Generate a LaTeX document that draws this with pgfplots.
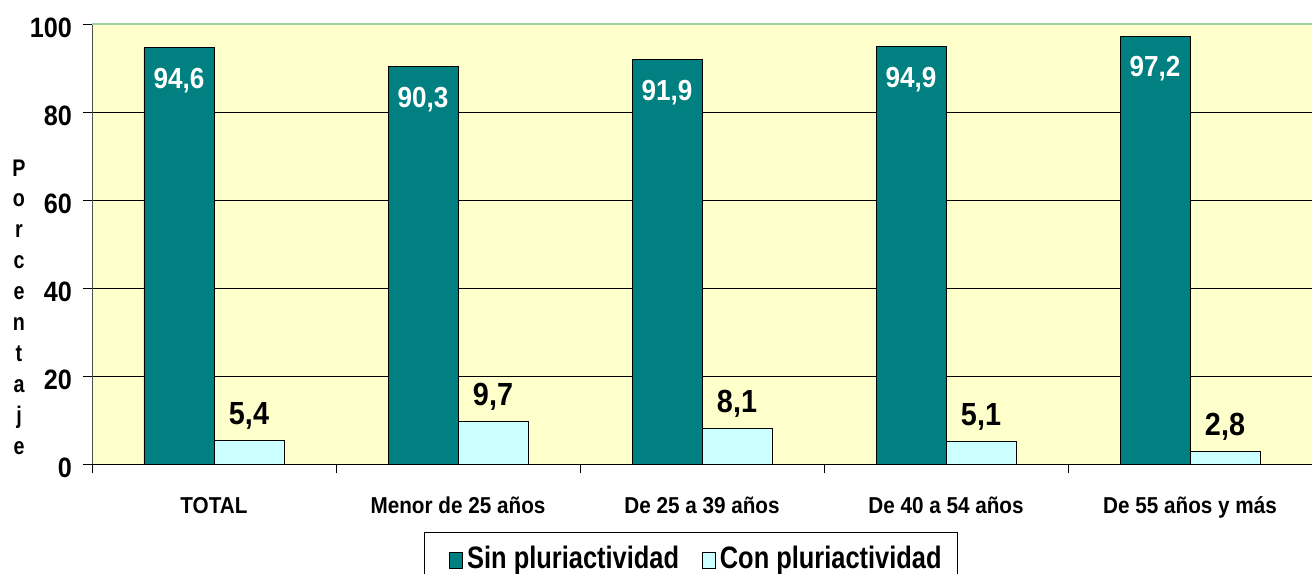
\documentclass[border=0pt]{standalone}
\usepackage{fontspec}
\setmainfont{Liberation Sans}[FakeStretch=0.9]
\newfontfamily\legfont{Liberation Sans}[FakeStretch=0.82]
\newfontfamily\labfont{Liberation Sans}[FakeStretch=0.82]
\usepackage{pgfplots}
\pgfplotsset{compat=1.18}
\definecolor{teal1}{RGB}{0,128,128}
\definecolor{cyan1}{RGB}{204,255,255}
\definecolor{bg}{RGB}{255,255,204}
\definecolor{topg}{RGB}{160,210,160}
\begin{document}
\begin{tikzpicture}
\begin{axis}[
 width=1220pt, height=440pt, scale only axis,
 xmin=-0.5, xmax=4.5, ymin=0, ymax=100,
 axis background/.style={fill=bg},
 axis x line*=bottom, axis y line*=left,
 x axis line style={black, line width=1pt},
 y axis line style={black!70, line width=1pt},
 /pgf/number format/assume math mode=true,
 ytick={0,20,...,100},
 ymajorgrids, grid style={black, line width=0.9pt},
 tick align=outside, major tick length=9pt,
 tick style={black, line width=0.9pt},
 xtick={-0.5,0.5,...,4.5}, xticklabels={},
 extra x ticks={0,1,2,3,4},
 extra x tick labels={TOTAL, Menor de 25 años, De 25 a 39 años, De 40 a 54 años, De 55 años y más},
 extra x tick style={tick style={draw=none}},
 xticklabel style={font=\bfseries\fontsize{23}{23}\selectfont, anchor=base, inner sep=0pt, yshift=-40pt},
 yticklabel style={font=\bfseries\fontsize{28}{28}\selectfont, anchor=east, inner sep=0pt, xshift=-11pt, yshift=-4pt},
 ylabel={P\\o\\r\\c\\e\\n\\t\\a\\j\\e},
 every axis y label/.style={at={(rel axis cs:0,0.357)}, anchor=center, xshift=-73pt, align=center, font=\labfont\bfseries\fontsize{24}{30.9}\selectfont},
 ybar=0pt, bar width=70pt,
 legend columns=2,
 legend style={at={(0.491,0)}, anchor=north, yshift=-68pt, draw=black, line width=0.9pt, fill=white,
   inner xsep=15.5pt, inner ysep=12pt, column sep=4pt, nodes={inner xsep=0pt},
   font=\legfont\bfseries\fontsize{31}{31}\selectfont,
   /tikz/every even column/.append style={column sep=14pt}},
 legend image code/.code={\path (-9pt,0pt); \draw[#1, draw=black, line width=0.8pt] (0pt,-10pt) rectangle (13pt,6pt);},
]
\addplot[fill=teal1, draw=black, line width=0.8pt,
  nodes near coords={\pgfmathprintnumber[fixed,fixed zerofill,precision=1,use comma,assume math mode=true]{\pgfplotspointmeta}},
  nodes near coords style={anchor=north, inner sep=0pt, yshift=-20pt, text=white, font=\bfseries\fontsize{29}{29}\selectfont}]
  coordinates {(0,94.6) (1,90.3) (2,91.9) (3,94.9) (4,97.2)};
\addplot[fill=cyan1, draw=black, line width=0.8pt,
  nodes near coords={\pgfmathprintnumber[fixed,fixed zerofill,precision=1,use comma,assume math mode=true]{\pgfplotspointmeta}},
  nodes near coords style={anchor=base, inner sep=0pt, yshift=16pt, text=black, font=\bfseries\fontsize{32}{32}\selectfont}]
  coordinates {(0,5.4) (1,9.7) (2,8.1) (3,5.1) (4,2.8)};
\legend{Sin pluriactividad, Con pluriactividad}
\draw[topg, line width=1.2pt] (rel axis cs:0,1) -- (rel axis cs:1,1);
\coordinate (bl) at (rel axis cs:0,0);
\coordinate (tr) at (rel axis cs:1,1);
\end{axis}
\pgfresetboundingbox
\path ([shift={(-92pt,-109pt)}]bl) rectangle ([shift={(0pt,24pt)}]tr);
\end{tikzpicture}
\end{document}
